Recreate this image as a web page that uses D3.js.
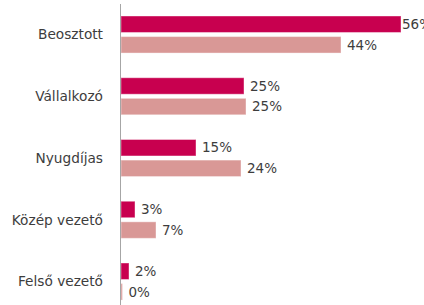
<!DOCTYPE html>
<html>
<head>
<meta charset="utf-8">
<script src="https://cdn.jsdelivr.net/npm/d3@7"></script>
<style>
  body { margin: 0; background: #fff; }
  svg text { font-family: "DejaVu Sans", sans-serif; fill: #3d3d3d; }
</style>
</head>
<body>
<svg id="chart"></svg>
<script>
// categories and the two series (percent)
var categories = ["Beosztott", "Vállalkozó", "Nyugdíjas", "Közép vezető", "Felső vezető"];
var seriesA = [56, 24.6, 15, 2.8, 1.6];
var seriesB = [44, 25, 24, 7, 0.3];
var labelsA = ["56%", "25%", "15%", "3%", "2%"];
var labelsB = ["44%", "25%", "24%", "7%", "0%"];

var svgWidth = 424, svgHeight = 305;
var margin = {top: 4, right: 0, bottom: 0, left: 121};
var chartWidth = svgWidth - margin.left - margin.right;
var chartHeight = svgHeight - margin.top - margin.bottom;

var svg = d3.select('#chart')
    .attr("width", svgWidth)
    .attr("height", svgHeight);

var chart = svg.append('g')
    .attr('transform', `translate(${margin.left}, ${margin.top})`);

// band per category, two sub-bars inside
var yScale = d3.scaleBand()
    .domain(categories)
    .range([-0.35, 308.4])
    .paddingInner(0.4)
    .paddingOuter(0.2);

var subScale = d3.scaleBand()
    .domain(["a", "b"])
    .range([0, yScale.bandwidth()])
    .paddingInner(0.2);

var xScale = d3.scaleLinear()
    .domain([0, 60])
    .range([0, 300]);

var data = categories.map((c, i) => ({
    cat: c,
    bars: [
        {key: "a", value: seriesA[i], label: labelsA[i], color: "#c8004f"},
        {key: "b", value: seriesB[i], label: labelsB[i], color: "#d99896"}
    ]
}));

var groups = chart.selectAll('.group')
    .data(data)
    .enter().append('g')
    .attr('class', 'group')
    .attr('transform', d => `translate(0, ${yScale(d.cat)})`);

groups.selectAll('rect')
    .data(d => d.bars)
    .enter().append('rect')
    .attr('x', 0)
    .attr('y', d => subScale(d.key))
    .attr('width', d => xScale(d.value))
    .attr('height', subScale.bandwidth())
    .attr('fill', d => d.color)
    .attr('stroke', '#fff')
    .attr('stroke-opacity', 0.4)
    .attr('stroke-width', 1);

// value labels, pulled in when they would run off the right edge
groups.selectAll('.val')
    .data(d => d.bars)
    .enter().append('text')
    .attr('class', 'val')
    .attr('y', d => subScale(d.key) + subScale.bandwidth() / 2)
    .attr('dy', '0.35em')
    .style('font-size', '13.5px')
    .text(d => d.label)
    .attr('x', function(d) {
        let w = this.getComputedTextLength();
        let end = xScale(d.value);
        return Math.max(end + 1, Math.min(end + 6, chartWidth - w));
    });

// category labels
chart.append('g')
    .selectAll('text')
    .data(categories)
    .enter().append('text')
    .attr('x', -18)
    .attr('y', d => yScale(d) + yScale.bandwidth() / 2)
    .attr('dy', '0.35em')
    .attr('text-anchor', 'end')
    .style('font-size', '13.7px')
    .text(d => d);

// axis line
chart.append('line')
    .attr('x1', -0.5).attr('x2', -0.5)
    .attr('y1', 0).attr('y2', chartHeight)
    .attr('stroke', '#a6a6a6')
    .attr('stroke-width', 1);
</script>
</body>
</html>
